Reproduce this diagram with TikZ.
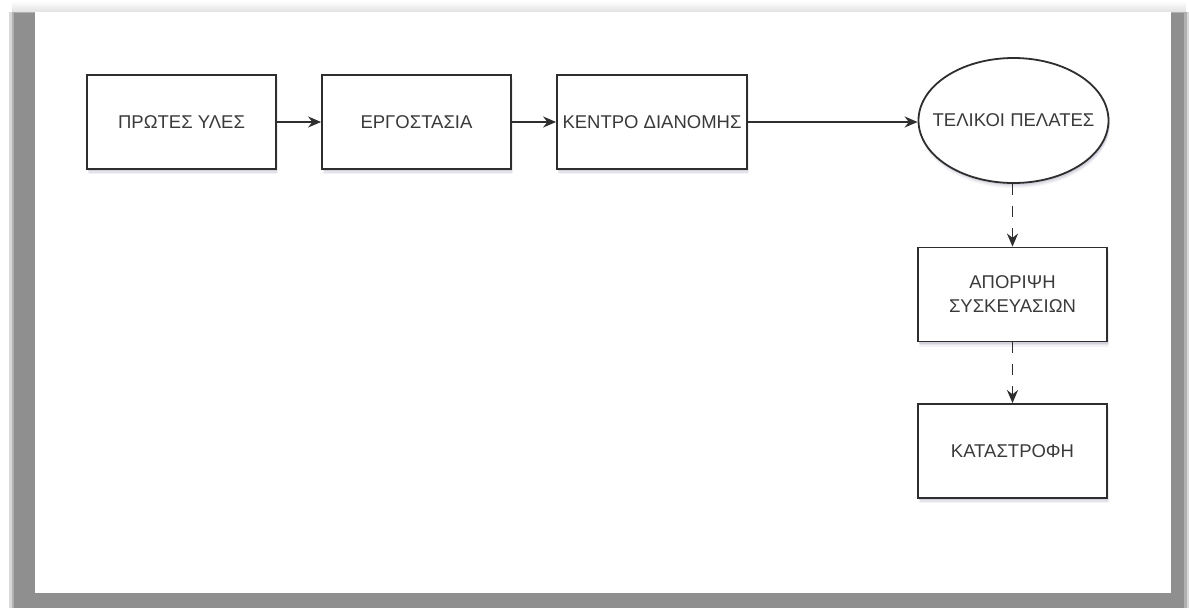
\documentclass[tikz,border=0pt]{standalone}
\usepackage{fontspec}
\setmainfont{Liberation Sans}
\usetikzlibrary{shapes.geometric,arrows.meta,shadows}

\definecolor{framegray}{HTML}{8F8F8F}
\definecolor{inkgray}{HTML}{2E2E2E}
\definecolor{textgray}{HTML}{3A3A3A}
\definecolor{shadowc}{HTML}{8A8AA8}

\tikzset{
  softshadow/.style={
    drop shadow={shadow xshift=1pt,shadow yshift=-5pt,opacity=0.10,fill=shadowc},
    drop shadow={shadow xshift=1.5pt,shadow yshift=-3.5pt,opacity=0.15,fill=shadowc},
    drop shadow={shadow xshift=1pt,shadow yshift=-2pt,opacity=0.20,fill=shadowc}},
  base/.style={draw=inkgray,line width=1.8pt,fill=white,text=textgray,
    font=\fontsize{18.5}{24}\selectfont,align=center,inner sep=0pt,softshadow},
  stagebox/.style={base,rectangle,minimum width=189pt,minimum height=94pt},
  endpoint/.style={base,ellipse,minimum width=190pt,minimum height=125pt},
  flow/.style={draw=inkgray,line width=1.8pt,-{Stealth[length=13pt,width=11pt]}},
  waste/.style={flow,dash pattern=on 11pt off 11pt}
}

\begin{document}
\begin{tikzpicture}[x=1pt,y=-1pt]
  \useasboundingbox (0,0) rectangle (1189,608);

  % page frame: grey border with a soft outer edge
  \shade[top color=white,bottom color=black!12] (12,1) rectangle (1186,12);
  \fill[framegray!35] (9,12) rectangle (1189,608);
  \fill[framegray!70] (11.5,12) rectangle (1187,608);
  \fill[framegray] (14,12.5) rectangle (1184,608);
  \fill[white] (35,12) rectangle (1171,593);

  % supply chain stages
  \node[stagebox] (raw) at (181.5,122) {ΠΡΩΤΕΣ ΥΛΕΣ};
  \node[stagebox] (plant) at (416.5,122) {ΕΡΓΟΣΤΑΣΙΑ};
  \node[stagebox,minimum width=190pt] (dist) at (652,122) {ΚΕΝΤΡΟ ΔΙΑΝΟΜΗΣ};
  \node[endpoint] (cust) at (1013.5,120.5) {\makebox[0pt]{ΤΕΛΙΚΟΙ ΠΕΛΑΤΕΣ}};
  \node[stagebox] (dispose) at (1012.5,294.5) {ΑΠΟΡΙΨΗ\\ΣΥΣΚΕΥΑΣΙΩΝ};
  \node[stagebox] (destroy) at (1012.5,451) {ΚΑΤΑΣΤΡΟΦΗ};

  % forward flow
  \draw[flow] (raw) -- (plant);
  \draw[flow] (plant) -- (dist);
  \draw[flow] (dist.east) -- (cust.west |- dist.east);

  % end of life
  \draw[waste] (cust.south -| dispose.north) -- (dispose.north);
  \draw[waste] (dispose) -- (destroy);
\end{tikzpicture}
\end{document}
